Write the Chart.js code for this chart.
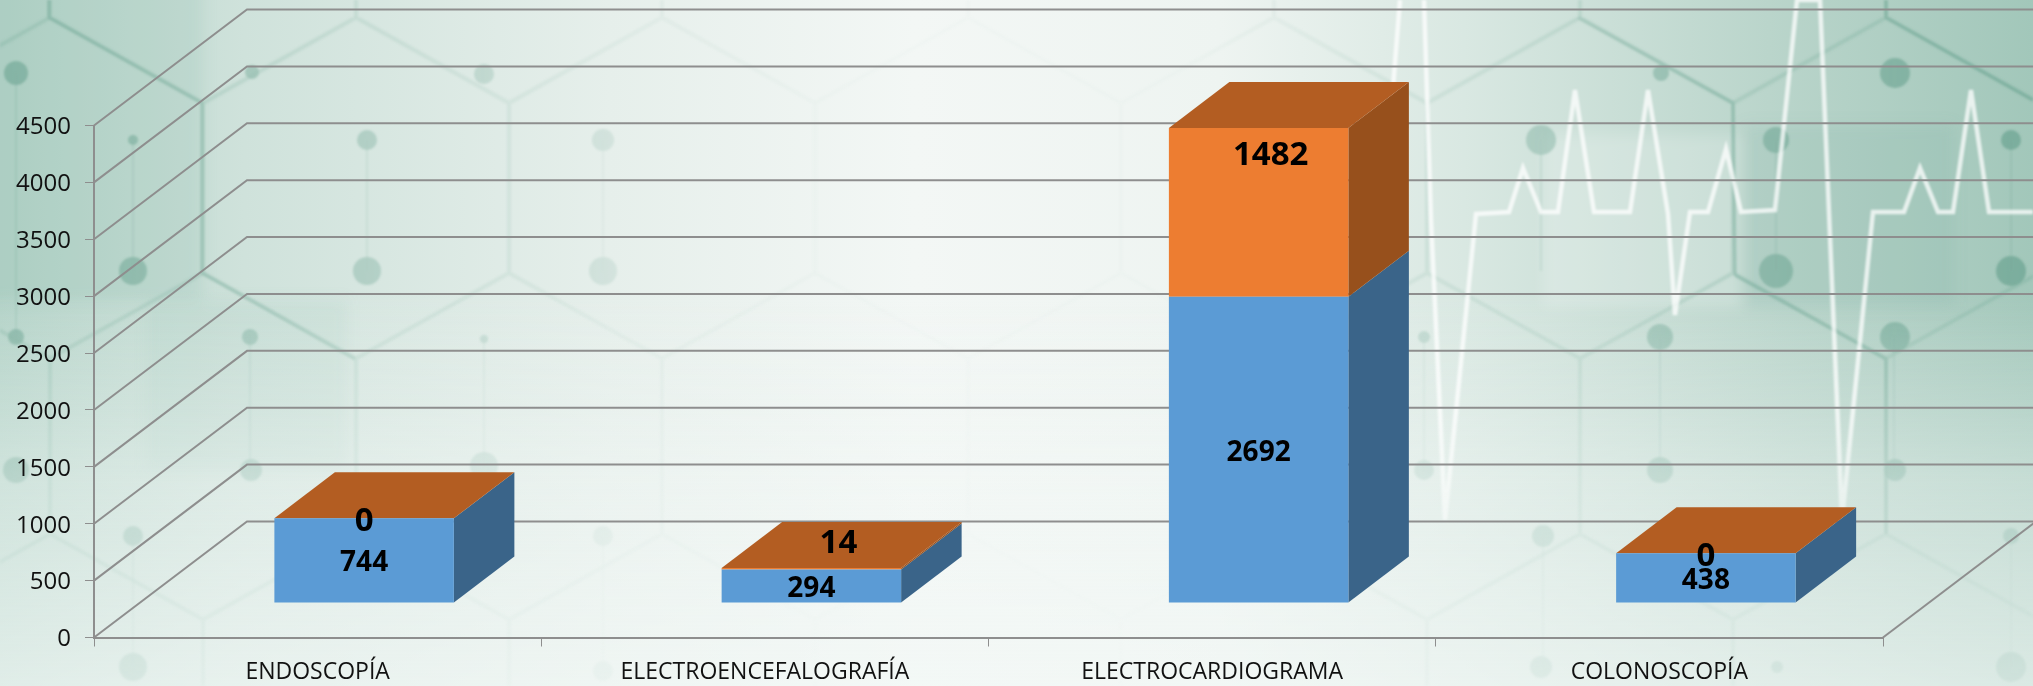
<!DOCTYPE html>
<html>
<head>
<meta charset="utf-8">
<title>Estudios</title>
<script src="https://cdn.jsdelivr.net/npm/chart.js@4"></script>
<style>
  html, body { margin: 0; padding: 0; width: 2033px; height: 686px; overflow: hidden; background: #eef4f1; }
  #fondo, #grafico { position: absolute; left: 0; top: 0; }
</style>
</head>
<body>
<!-- fondo decorativo: hexagonos y electrocardiograma, no es dato -->
<svg id="fondo" width="2033" height="686" xmlns="http://www.w3.org/2000/svg">
  <defs>
    <linearGradient id="base" x1="0" y1="0" x2="1" y2="0">
      <stop offset="0" stop-color="#b4d3c8"/>
      <stop offset="0.12" stop-color="#cfe2db"/>
      <stop offset="0.3" stop-color="#e6efeb"/>
      <stop offset="0.45" stop-color="#f3f7f5"/>
      <stop offset="0.6" stop-color="#eef4f1"/>
      <stop offset="0.72" stop-color="#d9e8e2"/>
      <stop offset="0.87" stop-color="#bad5cb"/>
      <stop offset="1" stop-color="#a2c7ba"/>
    </linearGradient>
    <linearGradient id="claro" x1="0" y1="0" x2="0" y2="1">
      <stop offset="0" stop-color="#f3f8f6" stop-opacity="0"/>
      <stop offset="0.42" stop-color="#f3f8f6" stop-opacity="0"/>
      <stop offset="0.7" stop-color="#f3f8f6" stop-opacity="0.45"/>
      <stop offset="1" stop-color="#f3f8f6" stop-opacity="0.7"/>
    </linearGradient>
    <linearGradient id="desvanece" x1="0" y1="0" x2="1" y2="0">
      <stop offset="0" stop-color="#fff" stop-opacity="0.8"/>
      <stop offset="0.12" stop-color="#fff" stop-opacity="0.55"/>
      <stop offset="0.3" stop-color="#fff" stop-opacity="0.2"/>
      <stop offset="0.42" stop-color="#fff" stop-opacity="0.05"/>
      <stop offset="0.58" stop-color="#fff" stop-opacity="0.05"/>
      <stop offset="0.72" stop-color="#fff" stop-opacity="0.4"/>
      <stop offset="1" stop-color="#fff" stop-opacity="0.95"/>
    </linearGradient>
    <linearGradient id="ecgFade" x1="0" y1="0" x2="0" y2="686" gradientUnits="userSpaceOnUse">
      <stop offset="0" stop-color="#fff" stop-opacity="0.75"/>
      <stop offset="0.6" stop-color="#fff" stop-opacity="0.75"/>
      <stop offset="0.78" stop-color="#fff" stop-opacity="0.45"/>
      <stop offset="1" stop-color="#fff" stop-opacity="0.1"/>
    </linearGradient>
    <filter id="borroso" x="-5%" y="-5%" width="110%" height="110%"><feGaussianBlur stdDeviation="0.9"/></filter>
    <filter id="difuso" x="-10%" y="-10%" width="120%" height="120%"><feGaussianBlur stdDeviation="7"/></filter>
    <mask id="mascara"><rect width="2033" height="686" fill="url(#desvanece)"/></mask>
    <pattern id="hex" patternUnits="userSpaceOnUse" x="50" y="17.5" width="306" height="516.5">
      <path d="M0 0 L153 85.5 L306 0 M153 85.5 L153 255.5 M0 341 L153 255.5 L306 341 M0 341 L0 516.5 M306 341 L306 516.5"
            fill="none" stroke="#7fb0a0" stroke-width="4"/>
    </pattern>
  </defs>
  <rect width="2033" height="686" fill="url(#base)"/>
  <g filter="url(#difuso)">
    <rect x="-20" y="-20" width="223" height="320" fill="#8fbcad" opacity="0.2"/>
    <rect x="147" y="300" width="200" height="170" fill="#8fbcad" opacity="0.12"/>
    <rect x="1543" y="135" width="198" height="172" fill="#ffffff" opacity="0.2"/>
    <rect x="1744" y="125" width="210" height="182" fill="#7fb0a0" opacity="0.16"/>
  </g>
  <g mask="url(#mascara)" filter="url(#borroso)">
    <rect width="2033" height="686" fill="url(#hex)" opacity="0.42"/>
    <path d="M49 0 L49 17.5 L202 103 L202 273 L355 359 M1735 275 L1886 359 L1886 534 M1886 0 L1886 17.5 L2033 100 M1578 17.5 L1733 103 L1735 275"
          fill="none" stroke="#78ab9a" stroke-width="3.5" opacity="0.7"/>
    <path d="M16 73 L16 337 M133 140 L133 271 M367 140 L367 271 M603 140 L603 271 M250 337 L250 470 M484 339 L484 470 M133 536 L133 667 M603 536 L603 671
             M1424 337 L1424 470 M1660 337 L1660 470 M1894 337 L1894 470 M1541 140 L1541 271 M1776 140 L1776 271 M2011 140 L2011 271 M1543 536 L1543 667 M2011 536 L2011 667"
          fill="none" stroke="#86b5a6" stroke-width="1.5" opacity="0.55"/>
    <g fill="#6fa694" opacity="0.8">
      <circle cx="16" cy="73" r="12"/><circle cx="133" cy="140" r="5"/><circle cx="367" cy="140" r="10"/><circle cx="603" cy="140" r="11"/>
      <circle cx="484" cy="74" r="10"/><circle cx="252" cy="72" r="7"/><circle cx="133" cy="271" r="14"/><circle cx="367" cy="271" r="14"/>
      <circle cx="603" cy="271" r="14"/><circle cx="16" cy="337" r="8"/><circle cx="250" cy="337" r="8"/><circle cx="484" cy="339" r="4"/>
      <circle cx="16" cy="470" r="13"/><circle cx="251" cy="470" r="11"/><circle cx="484" cy="466" r="14"/><circle cx="133" cy="536" r="10"/>
      <circle cx="603" cy="536" r="10"/><circle cx="133" cy="667" r="14"/><circle cx="603" cy="671" r="10"/>
      <circle cx="1661" cy="73" r="8"/><circle cx="1895" cy="73" r="15"/><circle cx="1541" cy="140" r="15"/><circle cx="1776" cy="140" r="13"/>
      <circle cx="2011" cy="140" r="10"/><circle cx="1776" cy="271" r="17"/><circle cx="2011" cy="271" r="15"/><circle cx="1424" cy="337" r="6"/>
      <circle cx="1660" cy="337" r="13"/><circle cx="1895" cy="337" r="15"/><circle cx="1424" cy="470" r="10"/><circle cx="1660" cy="470" r="13"/>
      <circle cx="1895" cy="470" r="11"/><circle cx="1543" cy="536" r="11"/><circle cx="2011" cy="536" r="8"/><circle cx="1541" cy="667" r="11"/>
      <circle cx="2011" cy="667" r="15"/><circle cx="1777" cy="667" r="6"/>
    </g>
  </g>
  <rect width="2033" height="686" fill="url(#claro)"/>
  <path d="M1392 100 L1400 0 M1424 0 L1431 219 L1445 520 L1476 214 L1509 212 L1523 168 L1541 212 L1558 212 L1575 90 L1594 212 L1630 212 L1648 90 L1668 214 L1675 315 L1690 212 L1708 212 L1726 149 L1741 212 L1775 210 L1797 0 L1820 0 L1842 520 L1873 212 L1904 212 L1920 168 L1938 212 L1953 212 L1971 90 L1989 212 L2033 212"
        fill="none" stroke="url(#ecgFade)" stroke-width="4.5" stroke-linejoin="miter" filter="url(#borroso)"/>
</svg>
<canvas id="grafico" width="2033" height="686"></canvas>
<script>
const categorias = ['ENDOSCOPÍA', 'ELECTROENCEFALOGRAFÍA', 'ELECTROCARDIOGRAMA', 'COLONOSCOPÍA'];
const serieAzul = [744, 294, 2692, 438];
const serieNaranja = [0, 14, 1482, 0];
const ticksY = [0, 500, 1000, 1500, 2000, 2500, 3000, 3500, 4000, 4500];

const colorAzul = '#5b9bd5';
const colorAzulLado = '#3a6489';
const colorNaranja = '#ed7d31';
const colorNaranjaLado = '#97501c';
const colorNaranjaTecho = '#b35d22';
const colorGrid = '#8e8e8e';

// offsets of the fake 3D box
const paredX = 153, paredY = 116;   // floor depth
const sueloX = 46.5, sueloY = 34.5; // bars sit inside the floor
const fondoX = 60.5, fondoY = 46;   // bar depth

// some labels were moved by hand in the original
const empujeEtiqueta = { '1-1': [27, -28], '1-2': [12, -60] };

function cara(ctx, color, puntos) {
  ctx.fillStyle = color;
  ctx.beginPath();
  puntos.forEach((p, i) => i ? ctx.lineTo(p[0], p[1]) : ctx.moveTo(p[0], p[1]));
  ctx.closePath();
  ctx.fill();
}

const falso3d = {
  id: 'falso3d',
  beforeDatasetsDraw(chart) {
    const ctx = chart.ctx, y = chart.scales.y, area = chart.chartArea;
    // walls and floor lines
    ctx.save();
    ctx.strokeStyle = colorGrid;
    ctx.lineWidth = 2;
    ticksY.forEach(v => {
      const py = y.getPixelForValue(v);
      ctx.beginPath();
      ctx.moveTo(area.left, py);
      ctx.lineTo(area.left + paredX, py - paredY);
      ctx.lineTo(chart.width, py - paredY);
      ctx.stroke();
    });
    ctx.beginPath();
    ctx.moveTo(area.right, area.bottom);
    ctx.lineTo(area.right + paredX, area.bottom - paredY);
    ctx.stroke();
    ctx.restore();

    ctx.save();
    ctx.translate(sueloX, -sueloY);
    chart.data.datasets.forEach((ds, i) => {
      const lado = i === 0 ? colorAzulLado : colorNaranjaLado;
      chart.getDatasetMeta(i).data.forEach(bar => {
        const izq = bar.x - bar.width / 2, der = bar.x + bar.width / 2;
        cara(ctx, lado, [[der, bar.y], [der + fondoX, bar.y - fondoY], [der + fondoX, bar.base - fondoY], [der, bar.base]]);
        if (i === chart.data.datasets.length - 1) {
          cara(ctx, colorNaranjaTecho, [[izq, bar.y], [izq + fondoX, bar.y - fondoY], [der + fondoX, bar.y - fondoY], [der, bar.y]]);
        }
      });
    });
  },
  afterDatasetsDraw(chart) {
    const ctx = chart.ctx;
    ctx.fillStyle = '#000';
    ctx.textAlign = 'center';
    ctx.textBaseline = 'middle';
    chart.data.datasets.forEach((ds, i) => {
      ctx.font = 'bold ' + (i === 0 ? 28 : 33) + 'px "Open Sans"';
      chart.getDatasetMeta(i).data.forEach((bar, j) => {
        const e = empujeEtiqueta[i + '-' + j] || [0, 0];
        ctx.fillText(ds.data[j], bar.x + e[0], (bar.y + bar.base) / 2 + 3 + e[1]);
      });
    });
    ctx.restore();
  }
};

new Chart(document.getElementById('grafico'), {
  type: 'bar',
  data: {
    labels: categorias,
    datasets: [
      { label: 'Serie 1', data: serieAzul, backgroundColor: colorAzul },
      { label: 'Serie 2', data: serieNaranja, backgroundColor: colorNaranja }
    ]
  },
  plugins: [falso3d],
  options: {
    responsive: false,
    animation: false,
    categoryPercentage: 0.4013,
    barPercentage: 1,
    layout: { padding: { top: 125.5, right: 150, left: 0, bottom: 0 } },
    plugins: { legend: { display: false }, tooltip: { enabled: false } },
    scales: {
      x: {
        stacked: true,
        afterFit(scale) { scale.height = 48.5; },
        border: { color: colorGrid, width: 2 },
        grid: { drawOnChartArea: false, color: colorGrid, tickLength: 9 },
        ticks: { color: '#111', font: { family: '"Open Sans"', size: 23 }, padding: 12, maxRotation: 0, autoSkip: false }
      },
      y: {
        stacked: true,
        min: 0,
        max: 4500,
        afterFit(scale) { scale.width = 94; },
        afterBuildTicks(scale) { scale.ticks = ticksY.map(v => ({ value: v })); },
        border: { color: colorGrid, width: 2 },
        grid: { drawOnChartArea: false, color: colorGrid, tickLength: 9 },
        ticks: { color: '#111', font: { family: '"Open Sans"', size: 24 }, padding: 14, labelOffset: 2, callback: v => String(v) }
      }
    }
  }
});
</script>
</body>
</html>
